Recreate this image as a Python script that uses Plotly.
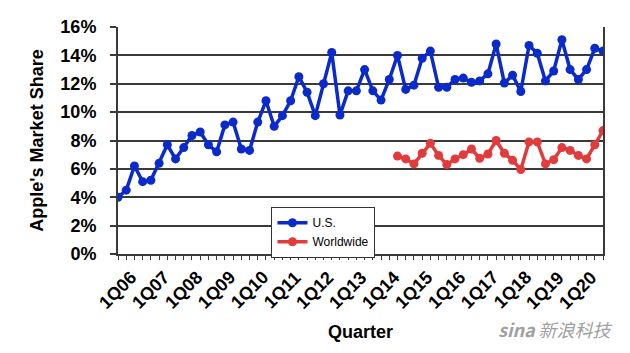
import plotly.graph_objects as go

# Quarters 1Q06 .. 4Q20
years = list(range(6, 21))
quarters = [f"{q}Q{y:02d}" for y in years for q in range(1, 5)]

us_share = [4.0, 4.5, 6.2, 5.1, 5.2, 6.4, 7.7, 6.7, 7.5, 8.35,
            8.6, 7.7, 7.2, 9.1, 9.3, 7.4, 7.3, 9.3, 10.8, 9.0,
            9.75, 10.8, 12.5, 11.4, 9.75, 12.0, 14.2, 9.8, 11.5, 11.5,
            13.0, 11.5, 10.85, 12.3, 14.0, 11.6, 11.9, 13.8, 14.3, 11.75,
            11.75, 12.3, 12.4, 12.1, 12.2, 12.7, 14.8, 12.05, 12.6, 11.45,
            14.7, 14.15, 12.2, 12.9, 15.1, 13.0, 12.3, 13.0, 14.5, 14.3]

ww_start = "3Q14"
ww_share = [6.9, 6.7, 6.35, 7.1, 7.8, 6.95, 6.3, 6.7, 7.0, 7.4,
            6.75, 7.05, 8.0, 7.1, 6.6, 5.95, 7.9, 7.9, 6.35, 6.65,
            7.5, 7.3, 6.95, 6.7, 7.7, 8.7]

tick_labels = [q for q in quarters if q.startswith("1Q")]

x_us = list(range(len(quarters)))
i0 = quarters.index(ww_start)
x_ww = list(range(i0, i0 + len(ww_share)))

BLUE = "#0B2ACB"
RED = "#E23B3B"
GRID = "#3a3a3a"
FONT = "Liberation Sans, Arial, sans-serif"

fig = go.Figure()
fig.add_trace(go.Scatter(x=x_us, y=us_share, name="U.S.", mode="lines+markers",
                         line=dict(color=BLUE, width=3.5),
                         marker=dict(color=BLUE, size=9)))
fig.add_trace(go.Scatter(x=x_ww, y=ww_share, name="Worldwide", mode="lines+markers",
                         line=dict(color=RED, width=3.5),
                         marker=dict(color=RED, size=9)))

annotations = []
for lab in tick_labels:
    annotations.append(dict(x=quarters.index(lab), y=-0.16, xref="x", yref="paper",
                            text=f"<b>{lab}</b>", textangle=-45, showarrow=False,
                            xanchor="center", yanchor="middle",
                            font=dict(family=FONT, size=18, color="black")))
annotations.append(dict(x=0.5, y=-0.345, xref="paper", yref="paper",
                        text="<b>Quarter</b>", showarrow=False,
                        xanchor="center", yanchor="middle",
                        font=dict(family=FONT, size=18, color="black")))
annotations.append(dict(x=1.025, y=-0.33, xref="paper", yref="paper",
                        text="<b><i>sina</i></b> <i>新浪科技</i>", showarrow=False,
                        xanchor="right", yanchor="middle",
                        font=dict(family="Noto Sans CJK SC, sans-serif", size=18, color="#a0a0a0")))

fig.update_layout(
    width=630, height=353,
    margin=dict(l=118, r=27, t=27, b=99),
    paper_bgcolor="white", plot_bgcolor="white",
    showlegend=True,
    legend=dict(x=0.316, y=0.207, xanchor="left", yanchor="top",
                bgcolor="white", bordercolor="#333", borderwidth=1.2,
                font=dict(family=FONT, size=12, color="black"),
                tracegroupgap=0, itemwidth=30),
    annotations=annotations,
    font=dict(family=FONT, color="black"),
)
fig.update_xaxes(range=[0, len(quarters) - 1], tickmode="linear", tick0=0, dtick=1,
                 showticklabels=False, ticks="outside", ticklen=4, tickwidth=1,
                 tickcolor=GRID, showline=True, linecolor=GRID, linewidth=2,
                 showgrid=False, zeroline=False)
fig.update_yaxes(range=[0, 16], tickmode="linear", tick0=0, dtick=2, ticksuffix="%",
                 tickfont=dict(family=FONT, size=18, color="black", weight="bold"),
                 ticks="outside", ticklen=6, tickwidth=1.5, tickcolor=GRID,
                 showline=True, linecolor=GRID, linewidth=2, mirror=True,
                 showgrid=True, gridcolor=GRID, gridwidth=1.6, zeroline=False,
                 ticklabelstandoff=10,
                 title=dict(text="<b>Apple's Market Share</b>", font=dict(family=FONT, size=18),
                            standoff=12))

fig.write_html("out.html")
